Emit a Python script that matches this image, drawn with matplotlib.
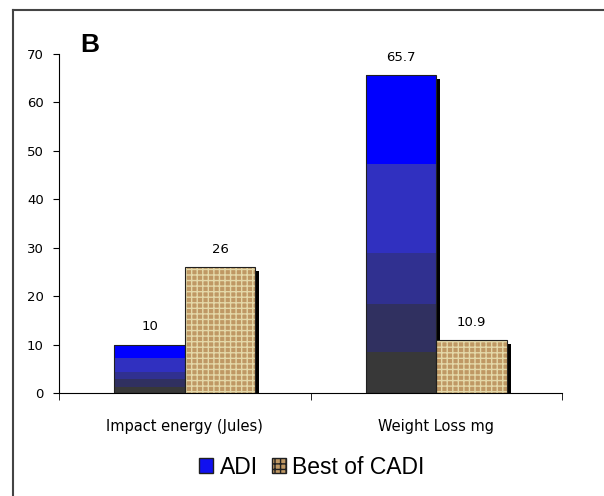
import numpy as np
import matplotlib
matplotlib.use('Agg')
from matplotlib import pyplot as plt
from matplotlib.patches import Patch
import matplotlib.transforms as mtransforms

plt.rcParams['font.family'] = ['DejaVu Sans']

categories = ['Impact energy (Jules)', 'Weight Loss mg']
adi = [10, 65.7]
cadi = [26, 10.9]
adi_labels = ['10', '65.7']
cadi_labels = ['26', '10.9']

# gradient bands of the ADI bars (fraction of bar height, colour)
band_edges = [0, 0.13, 0.28, 0.44, 0.72, 1.0]
band_colors = ['#383838', '#303060', '#303090', '#3030c0', '#0000ff']

fig = plt.figure(figsize=(6.04, 4.96), dpi=100)
W, H = 604, 496
ax = fig.add_axes([59 / W, (H - 393) / H, (562 - 59) / W, (393 - 54) / H])
ax.set_xlim(-0.5, 1.5)
ax.set_ylim(0, 70)

x = np.arange(len(categories))
bw = 0.28
shadow = mtransforms.offset_copy(ax.transData, fig=fig, x=4, y=0, units='dots')
drop = 4 * 70 / (393 - 54)  # 4 px in data units

for i in range(len(categories)):
    xa = x[i] - bw / 2
    xc = x[i] + bw / 2
    # shadows
    ax.bar(xa, adi[i] - drop, bw, color='black', transform=shadow, zorder=1)
    ax.bar(xc, cadi[i] - drop, bw, color='black', transform=shadow, zorder=1)
    # ADI gradient
    for k in range(len(band_colors)):
        b0 = band_edges[k] * adi[i]
        b1 = band_edges[k + 1] * adi[i]
        ax.bar(xa, b1 - b0, bw, bottom=b0, color=band_colors[k], linewidth=0, zorder=2)
    ax.bar(xa, adi[i], bw, fill=False, edgecolor='#202020', linewidth=0.8, zorder=3)
    # CADI texture
    ax.bar(xc, cadi[i], bw, color='#bf9864', edgecolor='#e4d8a8', hatch='+++',
           linewidth=0, zorder=2)
    ax.bar(xc, cadi[i], bw, fill=False, edgecolor='#202020', linewidth=0.8, zorder=3)
    ax.text(xa, adi[i] + 2.3, adi_labels[i], ha='center', va='bottom', fontsize=9.5)
    ax.text(xc, cadi[i] + 2.3, cadi_labels[i], ha='center', va='bottom', fontsize=9.5)

ax.set_yticks(np.arange(0, 71, 10))
ax.set_xticks(x)
ax.set_xticklabels(categories, fontsize=10.5)
ax.set_xticks([-0.5, 0.5, 1.5], minor=True)
ax.tick_params(axis='x', which='major', length=0, pad=19)
ax.tick_params(axis='x', which='minor', length=5, direction='out')
ax.tick_params(axis='y', length=4, direction='out', labelsize=9.5, pad=7)
ax.spines['top'].set_visible(False)
ax.spines['right'].set_visible(False)
for s in ['left', 'bottom']:
    ax.spines[s].set_linewidth(0.8)

fig.text(80 / W, 1 - 52 / H, 'B', fontsize=19, fontweight='bold', family='Liberation Sans')

handles = [Patch(facecolor='#1010f0', edgecolor='#202020'),
           Patch(facecolor='#bf9864', edgecolor='#202020', hatch='+++')]
fig.legend(handles, ['ADI', 'Best of CADI'], loc='center', bbox_to_anchor=(312 / W, 1 - 467 / H),
           ncol=2, frameon=False, handlelength=0.6, handleheight=0.6,
           handletextpad=0.3, columnspacing=0.6,
           prop={'family': 'Liberation Sans', 'size': 16.5})

# outer frame (left and top)
fig.add_artist(plt.Line2D([13 / W, 13 / W], [0, 1 - 10 / H], color='#444444', lw=1.5))
fig.add_artist(plt.Line2D([13 / W, 1], [1 - 10 / H, 1 - 10 / H], color='#444444', lw=1.5))

fig.savefig('out.png', dpi=100)
